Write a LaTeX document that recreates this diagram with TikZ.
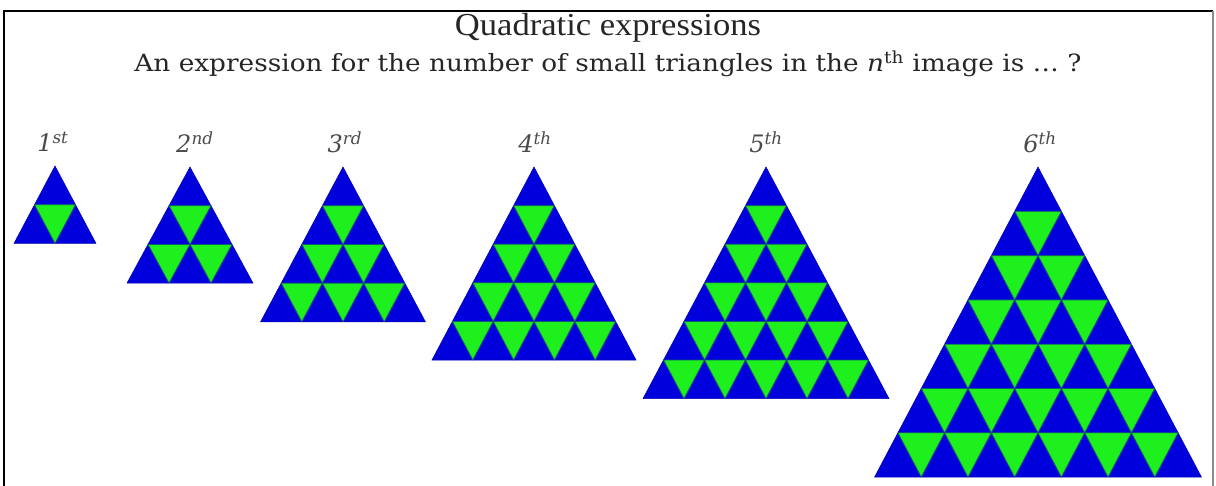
\documentclass[tikz,border=0pt]{standalone}
\usepackage{fontspec}
\setmainfont{DejaVu Serif}
\newfontfamily\titlefont[FakeStretch=1.08]{Liberation Serif}
\newfontfamily\askfont[FakeStretch=1.11]{DejaVu Serif}
\usepackage{tikz}
\usetikzlibrary{positioning}
\definecolor{trBlue}{HTML}{0000DD}
\definecolor{trGreen}{HTML}{1EF01E}
\definecolor{trEdge}{HTML}{0E5A6E}
\definecolor{trLabel}{HTML}{4A4A4A}
\tikzset{
  bluetri/.style={fill=trBlue, draw=trBlue!80!black, line width=0.4pt},
  greentri/.style={fill=trGreen, draw=trEdge, line width=0.6pt, line join=round},
  frameline/.style={line width=2pt, black},
  ordlabel/.style={font=\fontsize{18}{21}\selectfont\itshape, text=trLabel, inner sep=0pt}
}
% apex x, apex y, rows, side, row height
\newcommand{\pyramid}[5]{%
  \fill[bluetri] (#1,#2) -- ++({-#3*#4/2},{#3*#5}) -- ++({#3*#4},0) -- cycle;
  \pgfmathtruncatemacro{\lastrow}{#3-1}
  \foreach \r in {1,...,\lastrow}{
    \foreach \k in {1,...,\r}{
      \filldraw[greentri] ({#1+(\k-1-\r/2)*#4},{#2+\r*#5}) -- ++(#4,0) -- ++({-#4/2},#5) -- cycle;
    }
  }
}

\begin{document}
\begin{tikzpicture}[x=0.75pt, y=-0.75pt]
  \useasboundingbox (0,0) rectangle (1216,485);
  % frame
  \draw[frameline] (4,487) -- (4,11) -- (1213,11);
  \draw[line width=1pt, black!45] (1213,11) -- (1213,487);
  % heading
  \node[font=\titlefont\fontsize{24}{27}\selectfont, text=black!85] (title) at (608,28) {Quadratic expressions};
  \node[font=\askfont\fontsize{17.8}{21}\selectfont, text=black!85] (question) at (608,64)
    {An expression for the number of small triangles in the {\itshape n}\textsuperscript{th} image is … ?};
  % the six images
  \pyramid{55}{166}{2}{41}{38.7}
  \pyramid{190}{167}{3}{42}{38.7}
  \pyramid{343}{167}{4}{41.2}{38.7}
  \pyramid{534}{167}{5}{40.8}{38.6}
  \pyramid{766}{167}{6}{41}{38.6}
  \pyramid{1038}{167}{7}{46.7}{44.3}
  % ordinals
  \node[ordlabel] (l1) at (53,142) {1\textsuperscript{st}};
  \node[ordlabel] (l2) at (195,142) {2\textsuperscript{nd}};
  \node[ordlabel] (l3) at (345,142) {3\textsuperscript{rd}};
  \node[ordlabel] (l4) at (535,142) {4\textsuperscript{th}};
  \node[ordlabel] (l5) at (766,142) {5\textsuperscript{th}};
  \node[ordlabel] (l6) at (1040,142) {6\textsuperscript{th}};
\end{tikzpicture}
\end{document}
